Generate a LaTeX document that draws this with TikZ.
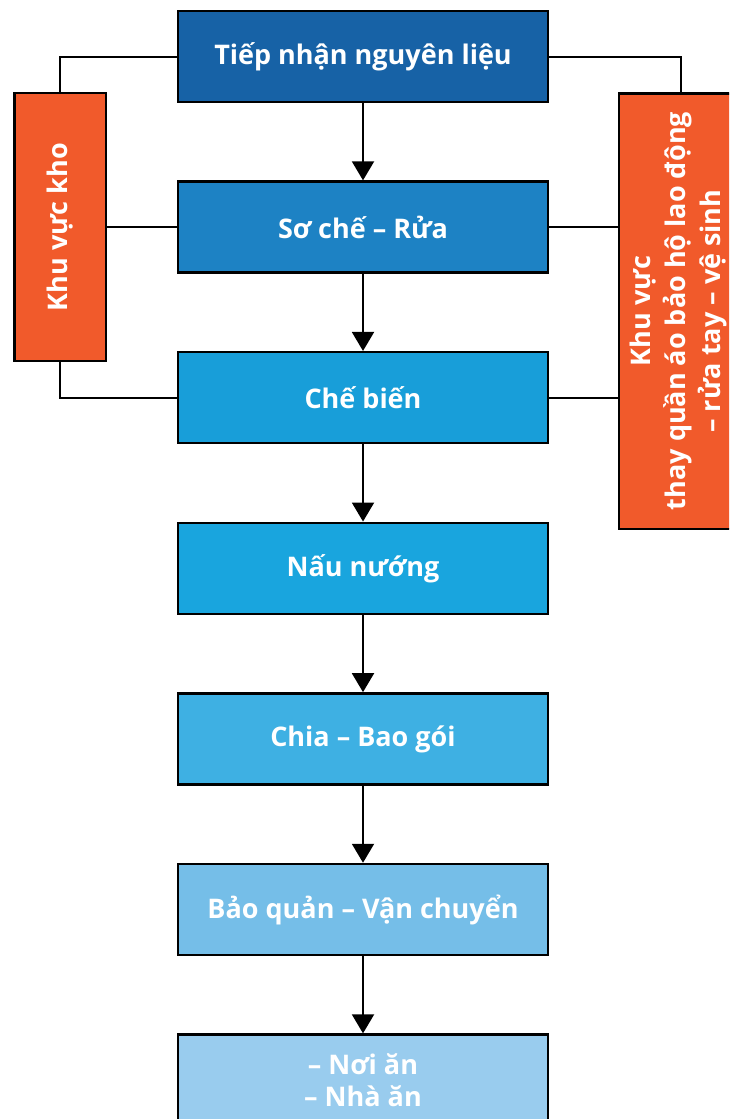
\documentclass[tikz,border=0pt]{standalone}
\usepackage{fontspec}
\setmainfont{Open Sans}
\usetikzlibrary{arrows.meta}
\definecolor{cA}{HTML}{1762A6}
\definecolor{cB}{HTML}{1D82C4}
\definecolor{cC}{HTML}{189ED9}
\definecolor{cD}{HTML}{19A5DE}
\definecolor{cE}{HTML}{3EB0E3}
\definecolor{cF}{HTML}{75BEE8}
\definecolor{cG}{HTML}{99CCEE}
\definecolor{corg}{HTML}{F15A2B}
\tikzset{
  stepbox/.style={draw=black, line width=2.5pt, rectangle, minimum width=370pt, minimum height=91pt, inner sep=0pt,
    text=white, font=\bfseries\fontsize{27}{32}\selectfont, align=center},
  sidebox/.style={draw=black, line width=2.5pt, rectangle, fill=corg, inner sep=0pt},
  sidetext/.style={rotate=90, text=white, font=\bfseries\fontsize{27}{35}\selectfont, align=center, inner sep=0pt},
  conn/.style={draw=black, line width=2pt},
  arr/.style={draw=black, line width=2pt, -{Triangle[length=19pt,width=22pt]}}
}
\begin{document}
\begin{tikzpicture}[x=1pt,y=-1pt]
\useasboundingbox (0,0) rectangle (729,1119);
\clip (0,0) rectangle (729,1119);
\fill[white] (0,0) rectangle (729,1119);

\node[stepbox, fill=cA] (b1) at (363,56.5) {Tiếp nhận nguyên liệu};
\node[stepbox, fill=cB] (b2) at (363,227.1) {Sơ chế – Rửa};
\node[stepbox, fill=cC] (b3) at (363,397.7) {Chế biến};
\node[stepbox, fill=cD] (b4) at (363,568.3) {Nấu nướng};
\node[stepbox, fill=cE] (b5) at (363,738.9) {Chia – Bao gói};
\node[stepbox, fill=cF] (b6) at (363,909.5) {Bảo quản – Vận chuyển};
\node[stepbox, fill=cG] (b7) at (363,1080.1) {– Nơi ăn\\– Nhà ăn};

\node[sidebox, minimum width=91.3pt, minimum height=268pt] (kho) at (60.3,227.1) {};
\node[sidetext] (khot) at (kho.center) {Khu vực kho};

\node[sidebox, minimum width=123pt, minimum height=435.5pt] (ppe) at (680.5,311) {};
\node[sidetext] (ppet) at ([xshift=-2.5pt]ppe.center) {Khu vực\\thay quần áo bảo hộ lao động\\– rửa tay – vệ sinh};

\draw[arr] (b1.south) -- (b2.north);
\draw[arr] (b2.south) -- (b3.north);
\draw[arr] (b3.south) -- (b4.north);
\draw[arr] (b4.south) -- (b5.north);
\draw[arr] (b5.south) -- (b6.north);
\draw[arr] (b6.south) -- (b7.north);

\draw[conn] (b1.west) -| (kho.north);
\draw[conn] (kho.east |- b2.west) -- (b2.west);
\draw[conn] (kho.south) |- (b3.west);
\draw[conn] (b1.east) -| (ppe.north);
\draw[conn] (b2.east) -- (ppe.west |- b2.east);
\draw[conn] (b3.east) -- (ppe.west |- b3.east);
\end{tikzpicture}
\end{document}
